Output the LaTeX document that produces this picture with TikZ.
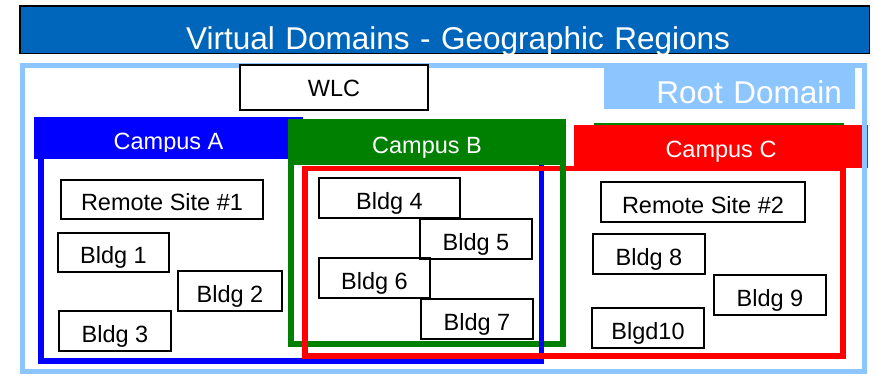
\documentclass[tikz,border=0pt]{standalone}
\usepackage{fontspec}
\setmainfont{Liberation Sans}
\definecolor{skyb}{RGB}{141,198,255}
\definecolor{titleb}{RGB}{0,102,187}
\definecolor{campg}{RGB}{0,128,0}
\definecolor{campb}{RGB}{0,0,255}
\definecolor{campr}{RGB}{255,0,0}
\tikzset{
  boxfont/.style={font=\fontsize{23.5}{28}\selectfont},
  bx/.style={draw=black, line width=1.8pt, inner sep=0pt, boxfont, text height=22.8pt, text depth=0pt, minimum height=40pt},
  hdr/.style={inner sep=0pt, boxfont, text=white, text height=22.2pt, text depth=0pt},
  frame/.style={line width=5.5pt},
}
\begin{document}
\begin{tikzpicture}[x=1pt,y=-1pt]
\useasboundingbox (0,0) rectangle (877,376);
% root domain label
\node[fill=skyb, inner ysep=0pt, inner xsep=0pt, minimum width=251pt, minimum height=41pt, text width=225pt, align=right,
  font=\fontsize{31.5}{36}\selectfont, text=white, text height=30.6pt, text depth=0pt] (root) at (729.5,88.5) {Root Domain};
% title
\node[fill=titleb, draw=black, line width=1.5pt, inner sep=0pt, minimum width=849.5pt, minimum height=47.5pt,
  text width=571pt, align=right, font=\fontsize{31.5}{36}\selectfont, text=white, text height=39.6pt, text depth=0pt]
  (title) at (444.5,29.5) {Virtual Domains - Geographic Regions};
% Campus A header
\node[hdr, fill=campb, minimum width=269pt, minimum height=42pt] (campA) at (168.5,138) {Campus A};
% green frame
\draw[campg, line width=6pt] (291,162) rectangle (562.5,343.5);
% blue frame
\draw[campb, frame] (41,155) rectangle (541.5,361);
% thin green line above campus C
\draw[campg, line width=1.5pt] (594,124) -- (844,124);
% Campus C header
\node[hdr, fill=campr, minimum width=294pt, minimum height=43pt] (campC) at (721,146.5) {Campus C};
% red frame
\draw[campr, frame] (305,168.5) rectangle (843,356);
% green right side over red
\draw[campg, line width=6pt] (562.5,160) -- (562.5,346.5);
% Campus B header
\node[hdr, fill=campg, minimum width=278pt, minimum height=46pt] (campB) at (427,142) {Campus B};
% outer root frame
\draw[skyb, line width=5pt] (22,65) rectangle (864,371);
% WLC
\node[bx, fill=white, minimum width=188pt, minimum height=45pt, text height=17.8pt] (wlc) at (334,87.5) {WLC};
% buildings
\node[bx, minimum width=202pt, minimum height=39pt] (rs1) at (162,199.5) {Remote Site \#1};
\node[bx, minimum width=111pt, minimum height=39pt] (b1) at (113.5,252.5) {Bldg 1};
\node[bx, minimum width=104pt] (b2) at (230,291) {Bldg 2};
\node[bx, minimum width=112pt] (b3) at (115,331) {Bldg 3};
\node[bx, minimum width=141pt] (b4) at (389.5,198) {Bldg 4};
\node[bx, minimum width=112pt] (b5) at (476,239) {Bldg 5};
\node[bx, minimum width=111pt] (b6) at (374.5,278) {Bldg 6};
\node[bx, minimum width=112pt] (b7) at (477,319) {Bldg 7};
\node[bx, minimum width=204pt] (rs2) at (703,202) {Remote Site \#2};
\node[bx, minimum width=112pt] (b8) at (649,254) {Bldg 8};
\node[bx, minimum width=112pt] (b9) at (770,295) {Bldg 9};
\node[bx, minimum width=112pt] (b10) at (648,328) {Blgd10};
\end{tikzpicture}
\end{document}
